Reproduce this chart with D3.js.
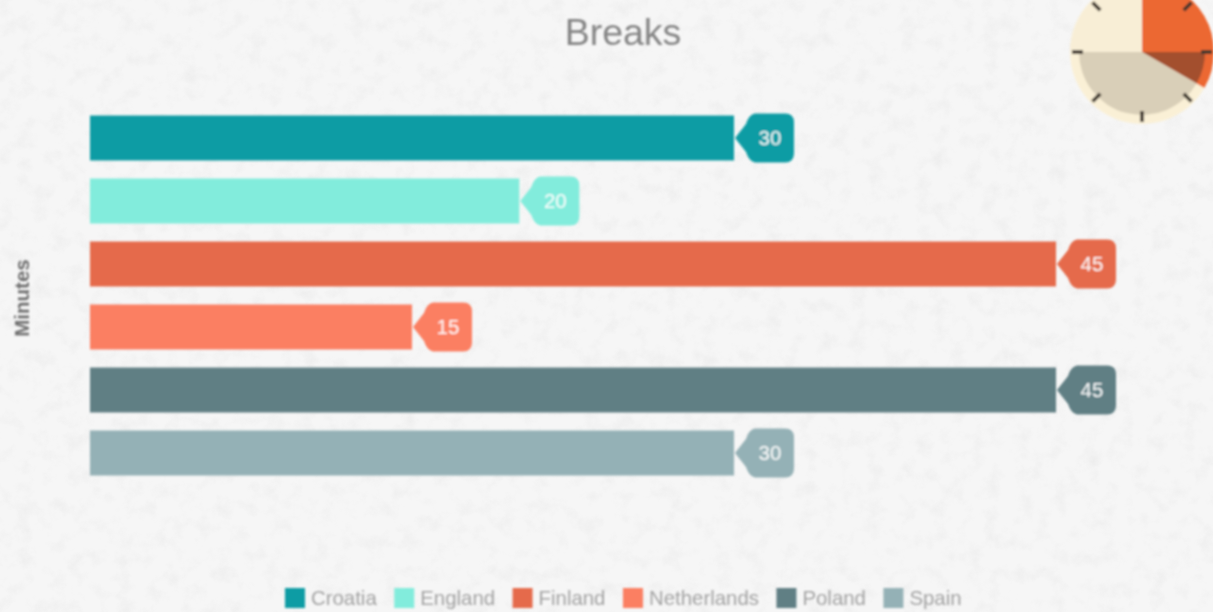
<!DOCTYPE html>
<html><head><meta charset="utf-8">
<script src="https://cdn.jsdelivr.net/npm/d3@7/dist/d3.min.js"></script>
<style>html,body{margin:0;padding:0;background:#f4f4f4;overflow:hidden}svg{display:block}text{font-family:"Liberation Sans",Arial,sans-serif}</style>
</head><body><svg id="c" width="1213" height="612"></svg>
<script>
const categories=["Croatia","England","Finland","Netherlands","Poland","Spain"];
const minutes=[30,20,45,15,45,30];
const colors=["#0f9ca4","#82ecdc","#e56b4c","#fb7f62","#607f84","#94b1b6"];
const axisMax=45;
const clockSlices=[
 {from:0,to:120,r:72,color:"#ec6732"},
 {from:90,to:120,r:63,color:"#a34f2e"},
 {from:120,to:270,r:63,color:"#d9cfb8"},
 {from:270,to:360,r:72,color:"#f8eed6"}];
const clockTicks=[45,90,135,180,225,270,315];

const svg=d3.select("#c");
const defs=svg.append("defs");
const tex=defs.append("filter").attr("id","tex").attr("x",0).attr("y",0).attr("width","100%").attr("height","100%");
tex.append("feTurbulence").attr("type","fractalNoise").attr("baseFrequency",0.06).attr("numOctaves",5).attr("seed",11);
tex.append("feColorMatrix").attr("values","0 0 0 0 0.7  0 0 0 0 0.7  0 0 0 0 0.7  1.4 0 0 0 -0.66");
defs.append("filter").attr("id","soft").append("feGaussianBlur").attr("stdDeviation",0.8);

svg.append("rect").attr("width",1213).attr("height",612).attr("fill","#f6f6f6");
svg.append("rect").attr("width",1213).attr("height",612).attr("filter","url(#tex)").attr("opacity",.4);

const g=svg.append("g").attr("filter","url(#soft)");
const x=d3.scaleLinear().domain([0,axisMax]).range([90,1056]);
const y=d3.scaleBand().domain(categories).range([115.5,475.5]).paddingInner(18/63).paddingOuter(0);

g.append("text").attr("x",623).attr("y",45).attr("text-anchor","middle").attr("font-size",37.5).attr("fill","#858585").text("Breaks");
g.append("text").attr("transform","translate(29,298) rotate(-90)").attr("text-anchor","middle").attr("font-size",20.5).attr("font-weight","bold").attr("fill","#6f6f6f").text("Minutes");

const rows=g.selectAll("g.row").data(categories).join("g").attr("class","row");
rows.append("rect").attr("x",x(0)).attr("y",d=>y(d)).attr("height",y.bandwidth())
  .attr("width",(d,i)=>x(minutes[i])-x(0)).attr("fill",(d,i)=>colors[i]);
function tagPath(bx,cy){
  const p=d3.path(),l=bx+12,r=bx+60,t=cy-24.5,b=cy+24.5,q=9;
  p.moveTo(bx+1,cy);p.lineTo(l,cy-14);p.quadraticCurveTo(l+3,t+1,l+9,t);
  p.lineTo(r-q,t);p.quadraticCurveTo(r,t,r,t+q);p.lineTo(r,b-q);p.quadraticCurveTo(r,b,r-q,b);
  p.lineTo(l+9,b);p.quadraticCurveTo(l+3,b-1,l,cy+14);p.closePath();return p.toString();
}
rows.append("path").attr("d",(d,i)=>tagPath(x(minutes[i]),y(d)+y.bandwidth()/2)).attr("fill",(d,i)=>colors[i]);
rows.append("text").attr("x",(d,i)=>x(minutes[i])+36).attr("y",d=>y(d)+29).attr("text-anchor","middle")
  .attr("font-size",20.5).attr("fill","#fff").attr("fill-opacity",.95).text((d,i)=>minutes[i]);

// legend
const leg=g.append("g");
let lx=285;
categories.forEach((c,i)=>{
  leg.append("rect").attr("x",lx).attr("y",588).attr("width",20).attr("height",20).attr("fill",colors[i]);
  const t=leg.append("text").attr("x",lx+26).attr("y",605).attr("font-size",20.4).attr("fill","#a3a3a3").text(c);
  lx+=26+t.node().getComputedTextLength()+17.5;
});

// clock
const rad=d=>d*Math.PI/180;
const clock=g.append("g").attr("transform","translate(1142,52)");
clock.append("circle").attr("r",72).attr("fill","#faf0d6");
const arc=d3.arc().innerRadius(0);
clock.selectAll("path.sl").data(clockSlices).join("path").attr("class","sl")
  .attr("d",s=>arc({outerRadius:s.r,startAngle:rad(s.from),endAngle:rad(s.to)})).attr("fill",s=>s.color);
clock.selectAll("line").data(clockTicks).join("line")
  .attr("x1",a=>59*Math.sin(rad(a))).attr("y1",a=>-59*Math.cos(rad(a)))
  .attr("x2",a=>70*Math.sin(rad(a))).attr("y2",a=>-70*Math.cos(rad(a)))
  .attr("stroke","#3f382f").attr("stroke-width",3.8);
</script></body></html>
